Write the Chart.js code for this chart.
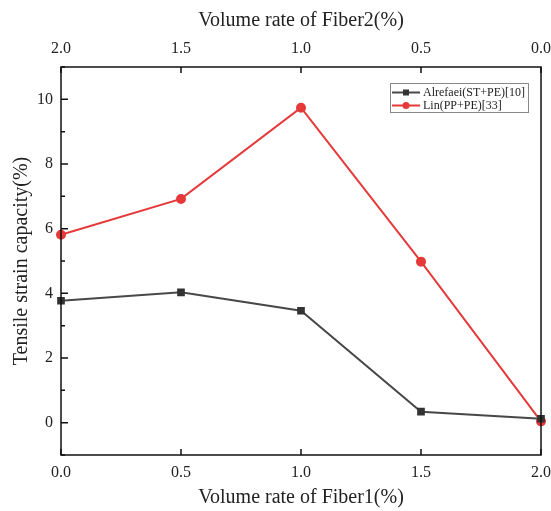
<!DOCTYPE html>
<html>
<head>
<meta charset="utf-8">
<script src="https://cdn.jsdelivr.net/npm/chart.js@4/dist/chart.umd.min.js"></script>
<style>
  body { margin: 0; background: #fff; overflow: hidden; }
  #wrap { width: 551px; height: 511px; position: relative; }
</style>
</head>
<body>
<div id="wrap"><canvas id="strainChart"></canvas></div>
<script>
// Tensile strain capacity vs fiber volume rate

// Data
const fiber1Rate = [0.0, 0.5, 1.0, 1.5, 2.0];
const alrefaeiStrain = [3.77, 4.03, 3.46, 0.34, 0.12];
const linStrain = [5.81, 6.92, 9.74, 4.98, 0.04];

const xTicks = [0.0, 0.5, 1.0, 1.5, 2.0];
const yTicks = [0, 2, 4, 6, 8, 10];
const yMinorTicks = [-1, 1, 3, 5, 7, 9, 11];

const serif = "'Liberation Serif', 'Times New Roman', serif";

function toPoints(ys) {
    return fiber1Rate.map((x, i) => ({ x: x, y: ys[i] }));
}

// Frame, inward tick marks and the boxed legend
const framePlugin = {
    id: 'frame',
    afterDraw(chart) {
        const ctx = chart.ctx;
        const area = chart.chartArea;
        const xs = chart.scales.x;
        const xt = chart.scales.x2;
        const ys = chart.scales.y;

        ctx.save();
        ctx.strokeStyle = '#111';
        ctx.lineWidth = 1.5;
        ctx.strokeRect(area.left, area.top, area.right - area.left, area.bottom - area.top);

        ctx.beginPath();
        xTicks.forEach(v => {
            const px = xs.getPixelForValue(v);
            ctx.moveTo(px, area.bottom);
            ctx.lineTo(px, area.bottom - 6);
            const pt = xt.getPixelForValue(v);
            ctx.moveTo(pt, area.top);
            ctx.lineTo(pt, area.top + 6);
        });
        yTicks.forEach(v => {
            const py = ys.getPixelForValue(v);
            ctx.moveTo(area.left, py);
            ctx.lineTo(area.left + 7, py);
        });
        yMinorTicks.forEach(v => {
            const py = ys.getPixelForValue(v);
            ctx.moveTo(area.left, py);
            ctx.lineTo(area.left + 4, py);
        });
        ctx.stroke();

        // legend
        const lx = 390, ly = 83, lw = 138, lh = 29;
        ctx.lineWidth = 1;
        ctx.strokeStyle = '#888';
        ctx.strokeRect(lx + 0.5, ly + 0.5, lw, lh);
        ctx.font = '12px ' + serif;
        ctx.textBaseline = 'middle';
        chart.data.datasets.forEach((ds, i) => {
            const cy = ly + 9.5 + i * 13;
            ctx.strokeStyle = ds.borderColor;
            ctx.lineWidth = 2;
            ctx.beginPath();
            ctx.moveTo(lx + 2, cy);
            ctx.lineTo(lx + 30, cy);
            ctx.stroke();
            ctx.fillStyle = ds.pointBackgroundColor;
            if (ds.pointStyle === 'rect') {
                ctx.fillRect(lx + 13, cy - 3, 6, 6);
            } else {
                ctx.beginPath();
                ctx.arc(lx + 16, cy, 3.5, 0, Math.PI * 2);
                ctx.fill();
            }
            ctx.fillStyle = '#222';
            ctx.fillText(ds.label, lx + 33, cy + 0.5);
        });
        ctx.restore();
    }
};

const tickFont = { family: serif, size: 16 };
const titleFont = { family: serif, size: 20 };

new Chart(document.getElementById('strainChart'), {
    type: 'line',
    data: {
        datasets: [
            {
                label: 'Alrefaei(ST+PE)[10]',
                data: toPoints(alrefaeiStrain),
                borderColor: '#484848',
                backgroundColor: '#333333',
                pointBackgroundColor: '#333333',
                pointBorderColor: '#333333',
                pointStyle: 'rect',
                pointRadius: 4,
                borderWidth: 2,
                tension: 0,
                clip: false
            },
            {
                label: 'Lin(PP+PE)[33]',
                data: toPoints(linStrain),
                borderColor: '#e5393a',
                backgroundColor: '#e5393a',
                pointBackgroundColor: '#e5393a',
                pointBorderColor: '#e5393a',
                pointStyle: 'circle',
                pointRadius: 4,
                borderWidth: 2,
                tension: 0,
                clip: false
            }
        ]
    },
    options: {
        responsive: true,
        maintainAspectRatio: false,
        animation: false,
        layout: { padding: { right: 10, left: 0, top: 0, bottom: 0 } },
        plugins: {
            legend: { display: false },
            tooltip: { enabled: false }
        },
        scales: {
            x: {
                type: 'linear',
                position: 'bottom',
                min: 0,
                max: 2,
                afterBuildTicks: s => { s.ticks = xTicks.map(v => ({ value: v })); },
                afterFit: s => { s.height = 56; s.paddingLeft = 0; s.paddingRight = 0; },
                grid: { display: false, drawTicks: false },
                border: { display: false },
                ticks: {
                    font: tickFont,
                    color: '#222',
                    padding: 8,
                    maxRotation: 0,
                    callback: v => v.toFixed(1)
                },
                title: {
                    display: true,
                    text: 'Volume rate of Fiber1(%)',
                    font: titleFont,
                    color: '#222',
                    padding: { top: 0, bottom: 1 }
                }
            },
            x2: {
                type: 'linear',
                position: 'top',
                min: 0,
                max: 2,
                reverse: true,
                afterBuildTicks: s => { s.ticks = xTicks.map(v => ({ value: v })); },
                afterFit: s => { s.height = 67; s.paddingLeft = 0; s.paddingRight = 0; },
                grid: { display: false, drawTicks: false },
                border: { display: false },
                ticks: {
                    font: tickFont,
                    color: '#222',
                    padding: 9,
                    maxRotation: 0,
                    callback: v => v.toFixed(1)
                },
                title: {
                    display: true,
                    text: 'Volume rate of Fiber2(%)',
                    font: titleFont,
                    color: '#222',
                    padding: { top: 9, bottom: 0 }
                }
            },
            y: {
                type: 'linear',
                position: 'left',
                min: -1,
                max: 11,
                afterBuildTicks: s => { s.ticks = yTicks.map(v => ({ value: v })); },
                afterFit: s => { s.width = 61; s.paddingTop = 0; s.paddingBottom = 0; },
                grid: { display: false, drawTicks: false },
                border: { display: false },
                ticks: {
                    font: tickFont,
                    color: '#222',
                    padding: 8
                },
                title: {
                    display: true,
                    text: 'Tensile strain capacity(%)',
                    font: titleFont,
                    color: '#222',
                    padding: { top: 10, bottom: 0 }
                }
            }
        }
    },
    plugins: [framePlugin]
});
</script>
</body>
</html>
